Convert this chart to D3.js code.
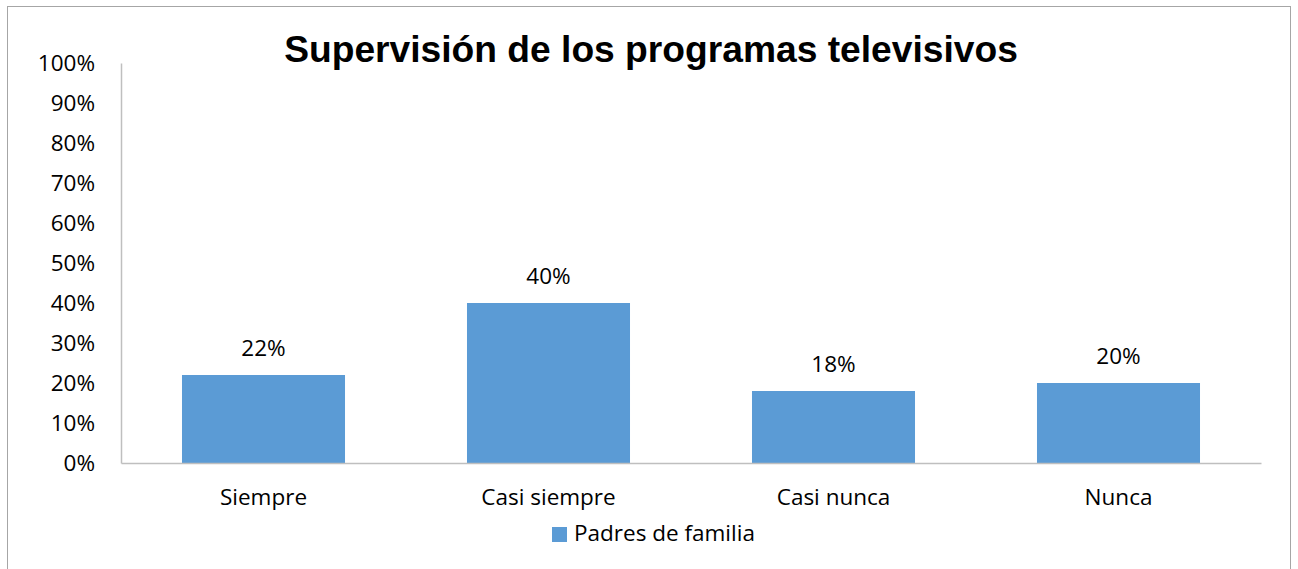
<!DOCTYPE html>
<html>
<head>
<meta charset="utf-8">
<script src="https://cdn.jsdelivr.net/npm/d3@7"></script>
<style>
  body { margin: 0; background: #fff; }
  svg { display: block; }
</style>
</head>
<body>
<div id="chart"></div>
<script>
const categories = ['Siempre', 'Casi siempre', 'Casi nunca', 'Nunca'];
const values = [0.22, 0.40, 0.18, 0.20];
const yTicks = [0, 0.1, 0.2, 0.3, 0.4, 0.5, 0.6, 0.7, 0.8, 0.9, 1.0];
const seriesName = 'Padres de familia';
const title = 'Supervisión de los programas televisivos';

const barColor = '#5B9BD5';
const labelFont = '"Open Sans", Lato, sans-serif';
const labelSize = '22.5px';

const width = 1298, height = 569;
const plot = { left: 121, right: 1261, top: 63, bottom: 463 };

const svg = d3.select('#chart')
    .append('svg')
    .attr('width', width)
    .attr('height', height);

// chart frame
svg.append('rect')
    .attr('x', 7.5)
    .attr('y', 6.5)
    .attr('width', 1283)
    .attr('height', 580)
    .attr('fill', '#fff')
    .attr('stroke', '#a6a6a6')
    .attr('stroke-width', 1);

const x = d3.scaleBand()
    .domain(categories)
    .range([plot.left, plot.right])
    .paddingInner(0.428)
    .paddingOuter(0.214);

const y = d3.scaleLinear()
    .domain([0, 1])
    .range([plot.bottom, plot.top]);

svg.append('text')
    .attr('x', 651)
    .attr('y', 62)
    .attr('text-anchor', 'middle')
    .style('font-family', '"Liberation Sans", Arial, sans-serif')
    .style('font-weight', 'bold')
    .style('font-size', '37.2px')
    .text(title);

// y axis
const yAxis = svg.append('g')
    .attr('transform', `translate(${plot.left},0)`)
    .call(d3.axisLeft(y).tickValues(yTicks).tickSize(0).tickPadding(26).tickFormat(d3.format('.0%')));
yAxis.select('.domain').attr('stroke', '#bfbfbf').attr('stroke-width', 1.5);
yAxis.selectAll('text')
    .style('font-family', labelFont)
    .style('font-size', labelSize)
    .attr('fill', '#000');

// bars
svg.append('g')
    .selectAll('rect')
    .data(values)
    .join('rect')
    .attr('x', (d, i) => x(categories[i]))
    .attr('y', d => y(d))
    .attr('width', x.bandwidth())
    .attr('height', d => y(0) - y(d))
    .attr('fill', barColor);

// data labels
svg.append('g')
    .selectAll('text')
    .data(values)
    .join('text')
    .attr('x', (d, i) => x(categories[i]) + x.bandwidth() / 2)
    .attr('y', d => y(d) - 19)
    .attr('text-anchor', 'middle')
    .style('font-family', labelFont)
    .style('font-size', labelSize)
    .text(d3.format('.0%'));

// x axis
const xAxis = svg.append('g')
    .attr('transform', `translate(0,${plot.bottom})`)
    .call(d3.axisBottom(x).tickSize(0).tickPadding(26));
xAxis.select('.domain').attr('stroke', '#bfbfbf').attr('stroke-width', 1.5);
xAxis.selectAll('text')
    .style('font-family', labelFont)
    .style('font-size', labelSize)
    .attr('fill', '#000');

// legend
const legend = svg.append('g').attr('transform', 'translate(552,527)');
legend.append('rect')
    .attr('width', 15)
    .attr('height', 15)
    .attr('fill', barColor);
legend.append('text')
    .attr('x', 22)
    .attr('y', 14)
    .style('font-family', labelFont)
    .style('font-size', labelSize)
    .text(seriesName);
</script>
</body>
</html>
